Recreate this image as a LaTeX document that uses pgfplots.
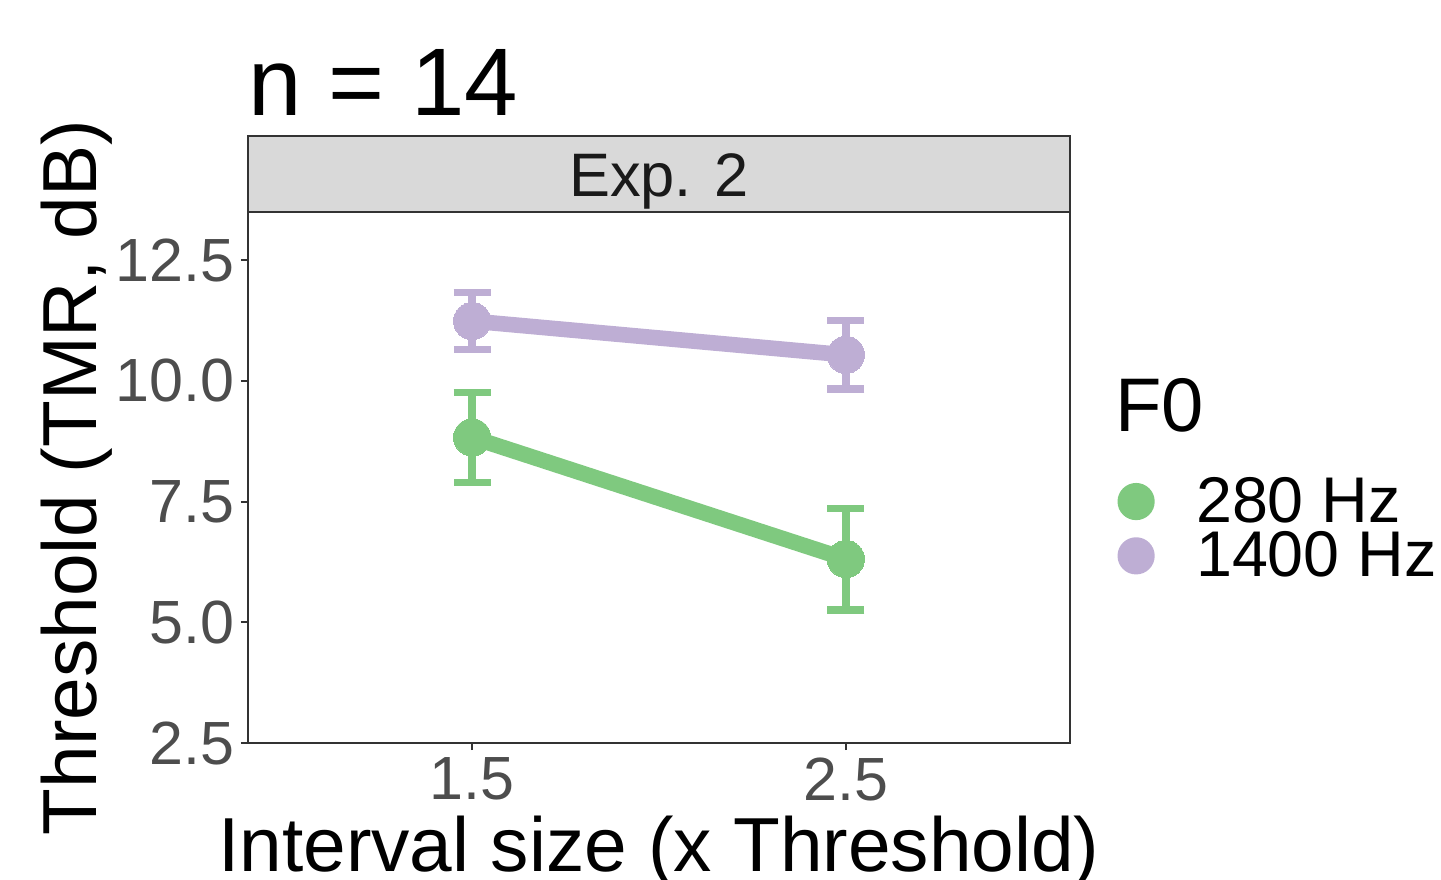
\documentclass[border=0pt]{standalone}
\usepackage{pgfplots}
\pgfplotsset{compat=1.18}
\usepackage{fontspec}
\setmainfont{Liberation Sans}
\definecolor{cgreen}{HTML}{7FC97F}
\definecolor{cpurple}{HTML}{BEAED4}
\definecolor{bordergray}{HTML}{333333}
\definecolor{ticklab}{HTML}{4D4D4D}
\definecolor{stripfill}{HTML}{D9D9D9}
\definecolor{striptext}{HTML}{1A1A1A}
\begin{document}
\begin{tikzpicture}
\useasboundingbox (-124pt,-68pt) rectangle (596.5pt,371.5pt);
\begin{axis}[name=ax, at={(0,0)}, anchor=south west, scale only axis,
  width=411pt, height=265.5pt,
  xmin=0.9, xmax=3.1, ymin=2.5, ymax=13.5,
  xtick={1.5,2.5}, xticklabels={1.5,2.5},
  ytick={2.5,5,7.5,10,12.5}, yticklabels={2.5,5.0,7.5,10.0,12.5},
  tick pos=left, tick align=outside, major tick length=3.6pt,
  tick style={line width=1pt, color=bordergray},
  axis line style={line width=1pt, color=bordergray},
  /pgf/number format/assume math mode=true,
  ticklabel style={font=\fontsize{30.5}{30.5}\selectfont, text=ticklab, inner sep=0pt},
  xticklabel style={anchor=north, yshift=-3.5pt},
  yticklabel style={anchor=east, xshift=-3pt},
  clip=false,
  legend style={at={(1.0578,0.5)}, anchor=north west, draw=none, fill=none,
    inner sep=0pt, outer sep=0pt, row sep=3.1pt, column sep=20.7pt,
    font=\fontsize{32.3}{32.3}\selectfont,
    nodes={inner sep=0pt}},
  legend cell align=left,
  legend image code/.code={\fill[draw=none, line width=0pt] (0pt,0pt) circle (9.3pt);},
]
\addplot[color=cgreen, line width=7.8pt, mark=*, mark size=9.3pt,
  mark options={line width=0pt},
  error bars/.cd, y dir=both, y explicit,
  error bar style={line width=3.8pt},
  error mark options={rotate=90, mark size=9.3pt, line width=3.8pt}]
  coordinates {(1.5,8.83) +- (0,0.93) (2.5,6.31) +- (0,1.05)};
\addlegendentry{280 Hz}
\addplot[color=cpurple, line width=7.8pt, mark=*, mark size=9.3pt,
  mark options={line width=0pt},
  error bars/.cd, y dir=both, y explicit,
  error bar style={line width=3.8pt},
  error mark options={rotate=90, mark size=9.3pt, line width=3.8pt}]
  coordinates {(1.5,11.24) +- (0,0.59) (2.5,10.54) +- (0,0.71)};
\addlegendentry{1400 Hz}
\end{axis}
\draw[fill=stripfill, draw=bordergray, line width=1pt] (ax.north west) rectangle ([yshift=38pt]ax.north east);
\node[anchor=base, inner sep=0pt, text=striptext, font=\fontsize{30.7}{30.7}\selectfont] at ([yshift=7.5pt]ax.north) {Exp. 2};
\node[anchor=base west, inner sep=0pt, font=\fontsize{48}{48}\selectfont] at ([yshift=48pt]ax.north west) {n = 14};
\node[anchor=base, inner sep=0pt, font=\fontsize{38.3}{38.3}\selectfont] at ([yshift=-64pt]ax.south) {Interval size (x Threshold)};
\node[anchor=base, rotate=90, inner sep=0pt, font=\fontsize{38.3}{38.3}\selectfont] at ([xshift=-75.75pt]ax.west) {Threshold (TMR, dB)};
\node[anchor=base west, inner sep=0pt, font=\fontsize{38}{38}\selectfont] at ([xshift=22.5pt,yshift=155.5pt]ax.south east) {F0};
\end{tikzpicture}
\end{document}
